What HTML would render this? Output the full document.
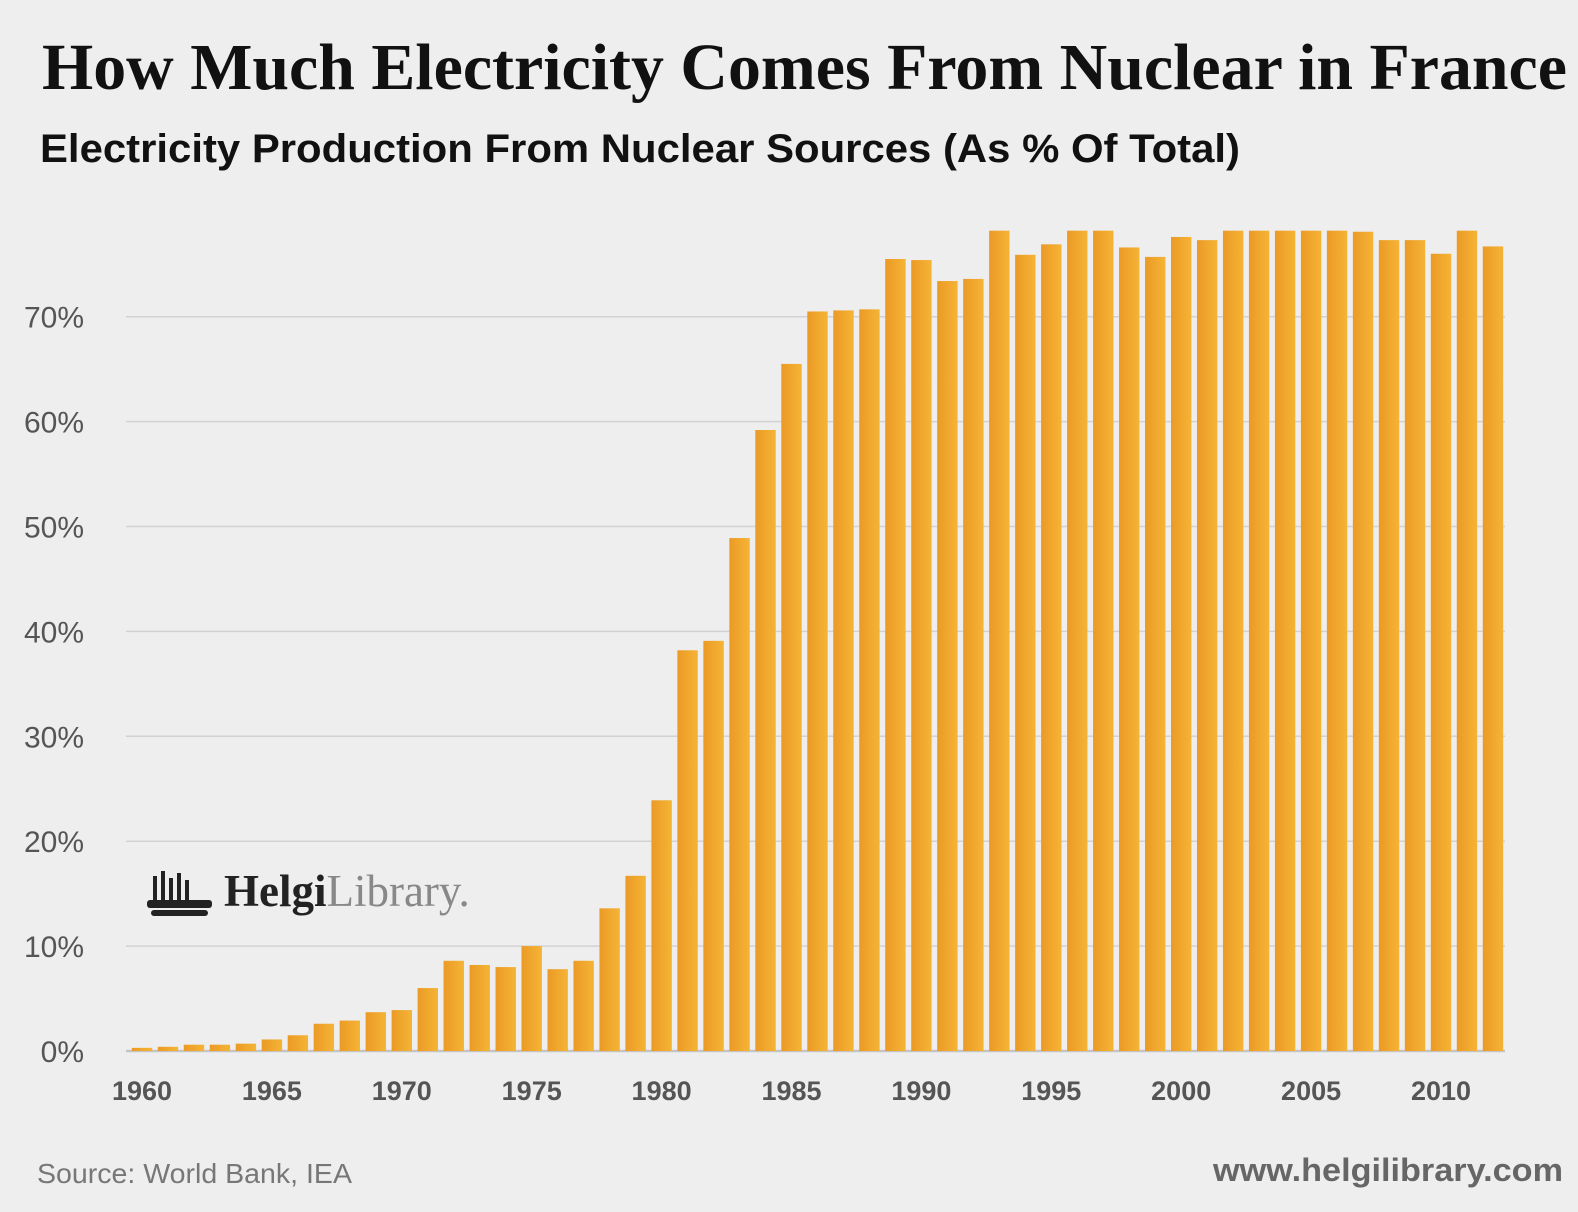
<!DOCTYPE html>
<html><head><meta charset="utf-8"><style>
body{margin:0;width:1578px;height:1212px;background:#eeeeee;overflow:hidden;position:relative;font-family:"Liberation Sans",sans-serif}
#title{position:absolute;left:42px;top:30px;font:bold 66px "Liberation Serif",serif;color:#111;white-space:nowrap;transform-origin:0 0}
#sub{position:absolute;left:40px;top:127px;font:bold 40px "Liberation Sans",sans-serif;color:#111;white-space:nowrap;transform-origin:0 0}
#src{position:absolute;left:37px;top:1158px;font:28px "Liberation Sans",sans-serif;color:#777;white-space:nowrap;transform-origin:0 0}
#url{position:absolute;left:1213px;top:1152px;font:bold 32px "Liberation Sans",sans-serif;color:#666;white-space:nowrap;transform-origin:0 0}
</style></head><body>
<div id="title">How Much Electricity Comes From Nuclear in France</div>
<div id="sub">Electricity Production From Nuclear Sources (As % Of Total)</div>
<svg id="chart" width="1578" height="1212" style="position:absolute;left:0;top:0">
<defs><linearGradient id="g" x1="0" x2="1"><stop offset="0" stop-color="#eb9a25"/><stop offset="1" stop-color="#f5b436"/></linearGradient></defs>
<g id="grid"></g><g id="bars"></g><g id="ylab"></g><g id="xlab"></g>
<g>
<g fill="#222"><rect x="153" y="876" width="4" height="26"/><rect x="161" y="871" width="4" height="31"/><rect x="169" y="878" width="4" height="24"/><rect x="177" y="873" width="4" height="29"/><rect x="185" y="880" width="4" height="22"/><rect x="147" y="900" width="65" height="8" rx="3"/><rect x="151" y="910" width="57" height="6" rx="3"/></g>
<text x="224" y="906" font-family="Liberation Serif,serif" font-size="45" fill="#222" font-weight="bold">Helgi<tspan font-weight="normal" fill="#888">Library.</tspan></text>
</g>
</svg>
<div id="src">Source: World Bank, IEA</div>
<div id="url">www.helgilibrary.com</div>
<script>
const years=[];for(let y=1960;y<=2012;y++)years.push(y);
const values=[0.3,0.4,0.6,0.6,0.7,1.1,1.5,2.6,2.9,3.7,3.9,6.0,8.6,8.2,8.0,10.0,7.8,8.6,13.6,16.7,23.9,38.2,39.1,48.9,59.2,65.5,70.5,70.6,70.7,75.5,75.4,73.4,73.6,78.2,75.9,76.9,78.2,78.2,76.6,75.7,77.6,77.3,78.2,78.2,78.2,78.2,78.2,78.1,77.3,77.3,76.0,78.2,76.7];
const yTicks=[0,10,20,30,40,50,60,70];
const xTicks=[1960,1965,1970,1975,1980,1985,1990,1995,2000,2005,2010];
const NS='http://www.w3.org/2000/svg';
const y=v=>1051-v*10.49, x=yr=>142+(yr-1960)*25.98;
function mk(t,a){const e=document.createElementNS(NS,t);for(const k in a)e.setAttribute(k,a[k]);return e;}
const G=document.getElementById('grid'),B=document.getElementById('bars'),YL=document.getElementById('ylab'),XL=document.getElementById('xlab');
yTicks.forEach(t=>{
 const l=mk('line',{x1:126,x2:1505,y1:y(t),y2:y(t),stroke:t?'#d2d2d2':'#c4c4c4','stroke-width':t?1.5:2.5});
 
 
 G.appendChild(l);
 const tx=mk('text',{x:84,y:y(t)+11,'text-anchor':'end','font-size':30,fill:'#555'});
 tx.textContent=t+'%';
 
 
 YL.appendChild(tx);
});
years.forEach((yr,i)=>{
 const r=mk('rect',{x:x(yr)-10.2,y:y(values[i]),width:20.4,height:1051-y(values[i]),fill:'url(#g)'});
 
 
 B.appendChild(r);
});
xTicks.forEach(t=>{
 const tx=mk('text',{x:x(t),y:1100,'text-anchor':'middle','font-size':27,'font-weight':'bold',fill:'#555'});
 tx.textContent=t;
 
 
 XL.appendChild(tx);
});
function fit(id,w){const e=document.getElementById(id);const cw=e.getBoundingClientRect().width;e.style.transform='scaleX('+(w/cw)+')';}
fit('title',1525);fit('sub',1200);fit('src',315);fit('url',350);
</script>
</body></html>
